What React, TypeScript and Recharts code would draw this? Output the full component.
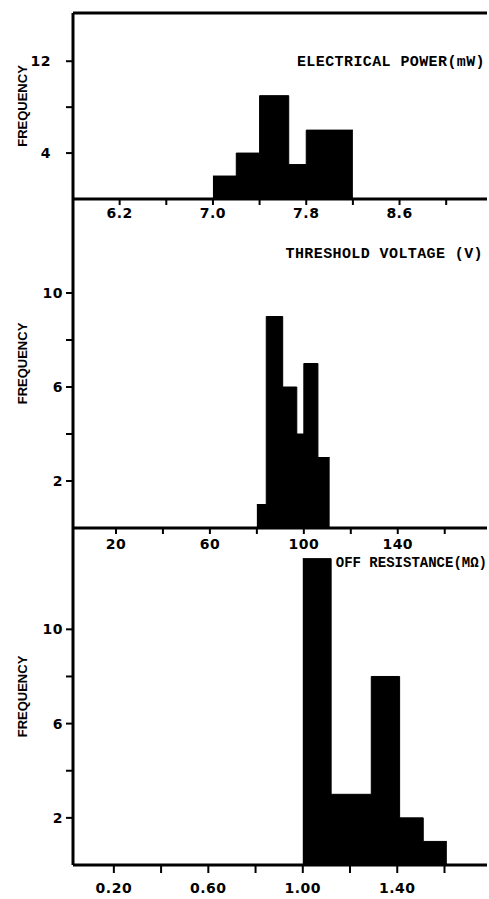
import { AreaChart, Area, XAxis, YAxis, ReferenceLine } from 'recharts'

// histogram bins: edges (n+1) and counts (n)
const powerEdges = [7.0, 7.2, 7.4, 7.65, 7.8, 8.2]
const powerCounts = [2, 4, 9, 3, 6]
const powerTicks = [6.2, 6.6, 7.0, 7.4, 7.8, 8.2, 8.6, 9.0]
const powerTickLabels = ['6.2', '', '7.0', '', '7.8', '', '8.6', '']
const powerFreqTicks = [4, 8, 12]
const powerFreqLabels = ['4', '', '12']

const voltageEdges = [80, 84, 91, 97, 100, 106, 111]
const voltageCounts = [1, 9, 6, 4, 7, 3]
const voltageTicks = [20, 40, 60, 80, 100, 120, 140, 160]
const voltageTickLabels = ['20', '', '60', '', '100', '', '140', '']
const voltageFreqTicks = [2, 4, 6, 8, 10]
const voltageFreqLabels = ['2', '', '6', '', '10']

const resistanceEdges = [1.0, 1.12, 1.29, 1.41, 1.51, 1.61]
const resistanceCounts = [13, 3, 8, 2, 1]
const resistanceTicks = [0.2, 0.4, 0.6, 0.8, 1.0, 1.2, 1.4, 1.6]
const resistanceTickLabels = ['0.20', '', '0.60', '', '1.00', '', '1.40', '']
const resistanceFreqTicks = [2, 4, 6, 8, 10]
const resistanceFreqLabels = ['2', '', '6', '', '10']

const W = 489
const H = 899

const toSteps = (edges: number[], counts: number[]) =>
  edges.map((x, i) => ({ x, n: counts[Math.min(i, counts.length - 1)] }))

const tickFont = {
  fontSize: 14,
  fill: '#000',
  fontFamily: 'DejaVu Sans',
  fontWeight: 'bold',
  letterSpacing: 0.5,
}

interface PanelProps {
  edges: number[]
  counts: number[]
  xDomain: [number, number]
  xTicks: number[]
  xLabels: string[]
  yDomain: [number, number]
  yTicks: number[]
  yLabels: string[]
  plotTop: number
  plotBottom: number
  xTickSize: number
  xTickMargin: number
  yTickMargin: number
  topLine?: boolean
}

function Panel(p: PanelProps) {
  const xAxisH = 30
  return (
    <div style={{ position: 'absolute', left: 0, top: 0 }}>
      <AreaChart
        width={W}
        height={H}
        data={toSteps(p.edges, p.counts)}
        margin={{ top: p.plotTop, right: 2, left: 0, bottom: H - p.plotBottom - xAxisH }}
      >
        <XAxis
          dataKey="x"
          type="number"
          domain={p.xDomain}
          ticks={p.xTicks}
          allowDataOverflow
          height={xAxisH}
          tickSize={p.xTickSize}
          tickMargin={p.xTickMargin}
          tickFormatter={(v: number) => p.xLabels[p.xTicks.indexOf(v)] ?? ''}
          tick={tickFont}
          tickLine={{ stroke: '#000', strokeWidth: 2 }}
          axisLine={{ stroke: '#000', strokeWidth: 3 }}
          interval={0}
        />
        <YAxis
          type="number"
          domain={p.yDomain}
          ticks={p.yTicks}
          allowDataOverflow
          width={73}
          tickSize={7}
          tickMargin={p.yTickMargin}
          tickFormatter={(v: number) => p.yLabels[p.yTicks.indexOf(v)] ?? ''}
          tick={tickFont}
          tickLine={{ stroke: '#000', strokeWidth: 2 }}
          axisLine={{ stroke: '#000', strokeWidth: 3 }}
          interval={0}
          label={{
            value: 'FREQUENCY',
            angle: -90,
            position: 'insideLeft',
            offset: 22,
            style: {
              textAnchor: 'middle',
              fontSize: 13,
              fontWeight: 'bold',
              fontFamily: 'Liberation Sans',
              fill: '#000',
            },
          }}
        />
        {p.topLine && <ReferenceLine y={p.yDomain[1]} stroke="#000" strokeWidth={3} />}
        <Area
          type="stepAfter"
          dataKey="n"
          stroke="#000"
          strokeWidth={1}
          fill="#000"
          fillOpacity={1}
          isAnimationActive={false}
          dot={false}
          activeDot={false}
        />
      </AreaChart>
    </div>
  )
}

const titleStyle = {
  position: 'absolute' as const,
  fontFamily: 'Liberation Mono',
  fontWeight: 'bold' as const,
  fontSize: 15,
  lineHeight: '16px',
  letterSpacing: 0.4,
  color: '#000',
  whiteSpace: 'nowrap' as const,
}

export default function App() {
  return (
    <div style={{ position: 'absolute', left: 0, top: 0, width: W, height: H, background: '#fff' }}>
      <Panel
        edges={powerEdges}
        counts={powerCounts}
        xDomain={[5.8, 9.35]}
        xTicks={powerTicks}
        xLabels={powerTickLabels}
        yDomain={[0, 16.2]}
        yTicks={powerFreqTicks}
        yLabels={powerFreqLabels}
        plotTop={13}
        plotBottom={199}
        xTickSize={6}
        xTickMargin={3}
        yTickMargin={15}
        topLine
      />
      <Panel
        edges={voltageEdges}
        counts={voltageCounts}
        xDomain={[1.7, 178]}
        xTicks={voltageTicks}
        xLabels={voltageTickLabels}
        yDomain={[0, 14]}
        yTicks={voltageFreqTicks}
        yLabels={voltageFreqLabels}
        plotTop={199}
        plotBottom={528}
        xTickSize={6}
        xTickMargin={5}
        yTickMargin={3}
      />
      <Panel
        edges={resistanceEdges}
        counts={resistanceCounts}
        xDomain={[0.027, 1.78]}
        xTicks={resistanceTicks}
        xLabels={resistanceTickLabels}
        yDomain={[0, 14.3]}
        yTicks={resistanceFreqTicks}
        yLabels={resistanceFreqLabels}
        plotTop={528}
        plotBottom={865}
        xTickSize={8}
        xTickMargin={10}
        yTickMargin={3}
      />
      <div style={{ ...titleStyle, right: 4, top: 55 }}>ELECTRICAL POWER(mW)</div>
      <div style={{ ...titleStyle, right: 6, top: 247 }}>THRESHOLD VOLTAGE (V)</div>
      <div style={{ ...titleStyle, right: 2, top: 555, fontSize: 14, letterSpacing: 0 }}>
        OFF RESISTANCE(MΩ)
      </div>
    </div>
  )
}
